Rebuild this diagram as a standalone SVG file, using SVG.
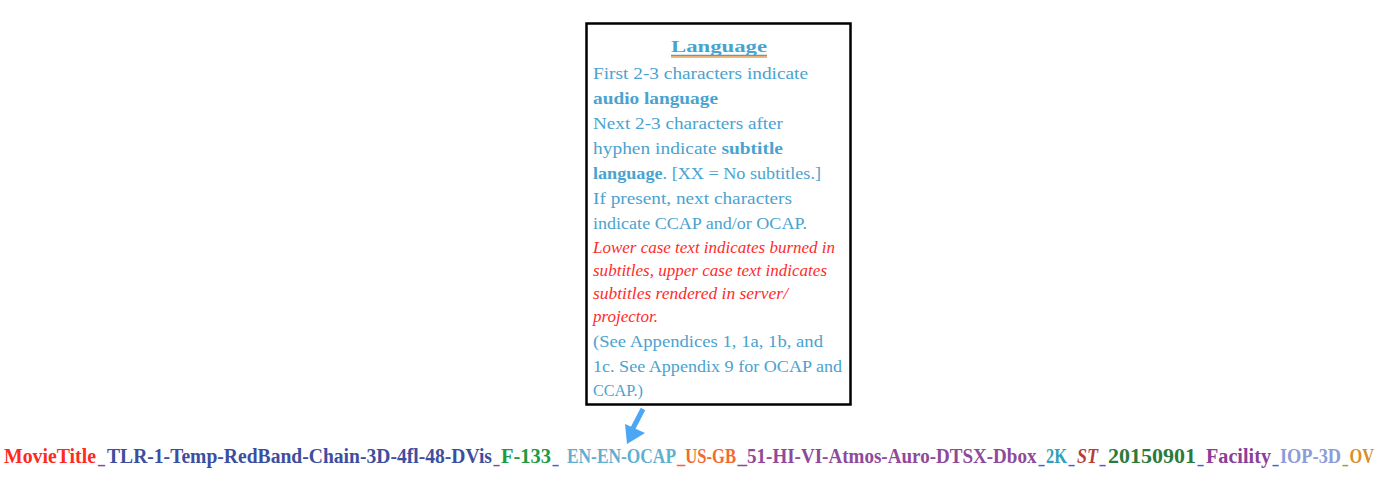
<svg xmlns="http://www.w3.org/2000/svg" width="1382" height="494" viewBox="0 0 1382 494">
<style>
.bx{font-family:"Liberation Serif","Times New Roman",serif;font-size:17.5px;fill:#4AA3CF}
.b{font-weight:bold}
.red{font-family:"Liberation Serif","Times New Roman",serif;font-size:16px;font-style:italic;fill:#FF2B2B}
.ln{font-family:"Liberation Serif","Times New Roman",serif;font-size:20px;font-weight:bold}
</style>
<rect width="1382" height="494" fill="#ffffff"/>
<g id="language-box">
<rect x="586.5" y="23.5" width="264" height="381" fill="#ffffff" stroke="#000000" stroke-width="2.5"/>
<text class="bx b" x="719" y="52" text-anchor="middle" font-size="21" textLength="96" lengthAdjust="spacingAndGlyphs">Language</text>
<line x1="671" y1="55.5" x2="767" y2="55.5" stroke="#4AA3CF" stroke-width="1.3"/>
<line x1="671" y1="57" x2="767" y2="57" stroke="#F0A050" stroke-width="1.3"/>
<text class="bx" x="593" y="79" textLength="215" lengthAdjust="spacingAndGlyphs">First 2-3 characters indicate</text>
<text class="bx b" x="593" y="104" textLength="125" lengthAdjust="spacingAndGlyphs">audio language</text>
<text class="bx" x="593" y="129" textLength="190" lengthAdjust="spacingAndGlyphs">Next 2-3 characters after</text>
<text class="bx" x="593" y="154" textLength="190" lengthAdjust="spacingAndGlyphs">hyphen indicate <tspan class="b">subtitle</tspan></text>
<text class="bx" x="593" y="179" textLength="228" lengthAdjust="spacingAndGlyphs"><tspan class="b">language</tspan>. [XX = No subtitles.]</text>
<text class="bx" x="593" y="204" textLength="199" lengthAdjust="spacingAndGlyphs">If present, next characters</text>
<text class="bx" x="593" y="229" textLength="214" lengthAdjust="spacingAndGlyphs">indicate CCAP and/or OCAP.</text>
<text class="red" x="593" y="253" textLength="242" lengthAdjust="spacingAndGlyphs">Lower case text indicates burned in</text>
<text class="red" x="593" y="276" textLength="234" lengthAdjust="spacingAndGlyphs">subtitles, upper case text indicates</text>
<text class="red" x="593" y="299" textLength="195" lengthAdjust="spacingAndGlyphs">subtitles rendered in server/</text>
<text class="red" x="593" y="322" textLength="65" lengthAdjust="spacingAndGlyphs">projector.</text>
<text class="bx" x="593" y="347" textLength="230" lengthAdjust="spacingAndGlyphs">(See Appendices 1, 1a, 1b, and</text>
<text class="bx" x="593" y="372" textLength="249" lengthAdjust="spacingAndGlyphs">1c. See Appendix 9 for OCAP and</text>
<text class="bx" x="593" y="396" textLength="50" lengthAdjust="spacingAndGlyphs">CCAP.)</text>
</g>
<g id="connectors">
<path d="M643,409 L631,432" stroke="#4BA6F5" stroke-width="5" fill="none"/>
<path d="M625,424 L645,433 L627,444 Z" fill="#4BA6F5"/>
</g>
<g id="filename">
<text class="ln" x="4" y="463" fill="#FF2A1F" textLength="92" lengthAdjust="spacingAndGlyphs">MovieTitle</text>
<text class="ln" x="98" y="463" fill="#8A4AA0" textLength="7" lengthAdjust="spacingAndGlyphs">_</text>
<text class="ln" x="107" y="463" fill="#3E4E9E" textLength="385" lengthAdjust="spacingAndGlyphs">TLR-1-Temp-RedBand-Chain-3D-4fl-48-DVis</text>
<text class="ln" x="493.5" y="463" fill="#8A4AA0" textLength="6" lengthAdjust="spacingAndGlyphs">_</text>
<text class="ln" x="501" y="463" fill="#1E9A40" textLength="50" lengthAdjust="spacingAndGlyphs">F-133</text>
<text class="ln" x="552.5" y="463" fill="#4A5FE0" textLength="6" lengthAdjust="spacingAndGlyphs">_</text>
<text class="ln" x="567" y="463" fill="#5FB0D0" textLength="109" lengthAdjust="spacingAndGlyphs">EN-EN-OCAP</text>
<text class="ln" x="677" y="463" fill="#F26A30" textLength="59" lengthAdjust="spacingAndGlyphs">_US-GB</text>
<text class="ln" x="737.5" y="463" fill="#8E4A9A" textLength="299" lengthAdjust="spacingAndGlyphs">_51-HI-VI-Atmos-Auro-DTSX-Dbox</text>
<text class="ln" x="1038.5" y="463" fill="#4A5FE0" textLength="6" lengthAdjust="spacingAndGlyphs">_</text>
<text class="ln" x="1046" y="463" fill="#30A0B8" textLength="21" lengthAdjust="spacingAndGlyphs">2K</text>
<text class="ln" x="1068.5" y="463" fill="#4A5FE0" textLength="6" lengthAdjust="spacingAndGlyphs">_</text>
<text class="ln" x="1077" y="463" fill="#B83C3C" font-style="italic" textLength="21" lengthAdjust="spacingAndGlyphs">ST</text>
<text class="ln" x="1099.5" y="463" fill="#4A5FE0" textLength="6" lengthAdjust="spacingAndGlyphs">_</text>
<text class="ln" x="1108" y="463" fill="#2B7A3A" textLength="88" lengthAdjust="spacingAndGlyphs">20150901</text>
<text class="ln" x="1197.5" y="463" fill="#4A5FE0" textLength="6" lengthAdjust="spacingAndGlyphs">_</text>
<text class="ln" x="1206" y="463" fill="#8A3F9A" textLength="65" lengthAdjust="spacingAndGlyphs">Facility</text>
<text class="ln" x="1272.5" y="463" fill="#4A5FE0" textLength="6" lengthAdjust="spacingAndGlyphs">_</text>
<text class="ln" x="1280" y="463" fill="#8C9CD8" textLength="61" lengthAdjust="spacingAndGlyphs">IOP-3D</text>
<text class="ln" x="1342.5" y="463" fill="#8AAA30" textLength="5.5" lengthAdjust="spacingAndGlyphs">_</text>
<text class="ln" x="1349.5" y="463" fill="#D8902A" textLength="24.5" lengthAdjust="spacingAndGlyphs">OV</text>
</g>
</svg>
